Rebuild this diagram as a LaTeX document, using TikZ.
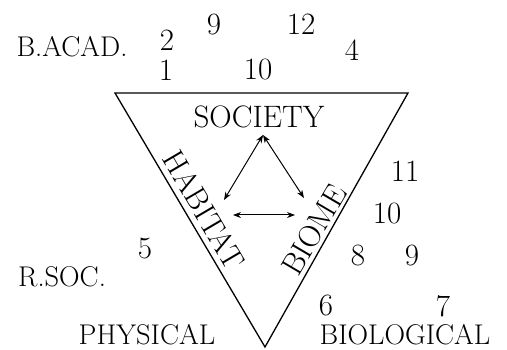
\documentclass[tikz,border=0pt]{standalone}
\usepackage{tikz}
\usetikzlibrary{positioning, arrows.meta}

\tikzset{
  big/.style={font=\fontsize{31}{31}\selectfont, inner sep=0pt},
  side/.style={font=\fontsize{28.5}{28.5}\selectfont, inner sep=0pt},
  num/.style={font=\fontsize{31}{31}\selectfont, inner sep=0pt},
  link/.style={{Stealth[length=8pt, width=6pt]}-{Stealth[length=8pt, width=6pt]}, line width=1pt},
}

\begin{document}
\begin{tikzpicture}[x=1pt, y=-1pt]
        \useasboundingbox (0,0) rectangle (507,350);
        % the triangle
        \coordinate (tl) at (115,93);
        \coordinate (tr) at (408,93);
        \coordinate (bt) at (265,347);
        \draw[line width=1.3pt, line join=miter] (tl) -- (tr) -- (bt) -- cycle;
        % inner labels
        \node[big] (society) at (259,117) {SOCIETY};
        \node[big, rotate=-59.5] (habitat) at (204,210) {HABITAT};
        \node[big, rotate=59.5] (biome) at (314,230) {BIOME};
        % arrows
        \coordinate (soc) at (263,135);
        \coordinate (hab) at (224,200);
        \coordinate (bio) at (304,198);
        \coordinate (hl) at (233,215);
        \coordinate (hr) at (295,215);
        \draw[link] (soc) -- (hab);
        \draw[link] (soc) -- (bio);
        \draw[link] (hl) -- (hr);
        % outer labels
        \node[side] (bacad) at (72,47) {B.ACAD.};
        \node[side] (rsoc) at (62,277) {R.SOC.};
        \node[side] (physical) at (147,335) {PHYSICAL};
        \node[side] (biological) at (405,335) {BIOLOGICAL};
        % numbers
        \node[num] (n2) at (167,40) {2};
        \node[num] (n1) at (166,70) {1};
        \node[num] (n9a) at (214,25) {9};
        \node[num] (n12) at (301,24) {12};
        \node[num] (n10a) at (258,70) {10};
        \node[num] (n4) at (352,50) {4};
        \node[num] (n11) at (405,171) {11};
        \node[num] (n10b) at (387,214) {10};
        \node[num] (n8) at (358,256) {8};
        \node[num] (n9b) at (412,256) {9};
        \node[num] (n5) at (145,249) {5};
        \node[num] (n6) at (326,306) {6};
        \node[num] (n7) at (443,306) {7};
      \end{tikzpicture}
\end{document}
